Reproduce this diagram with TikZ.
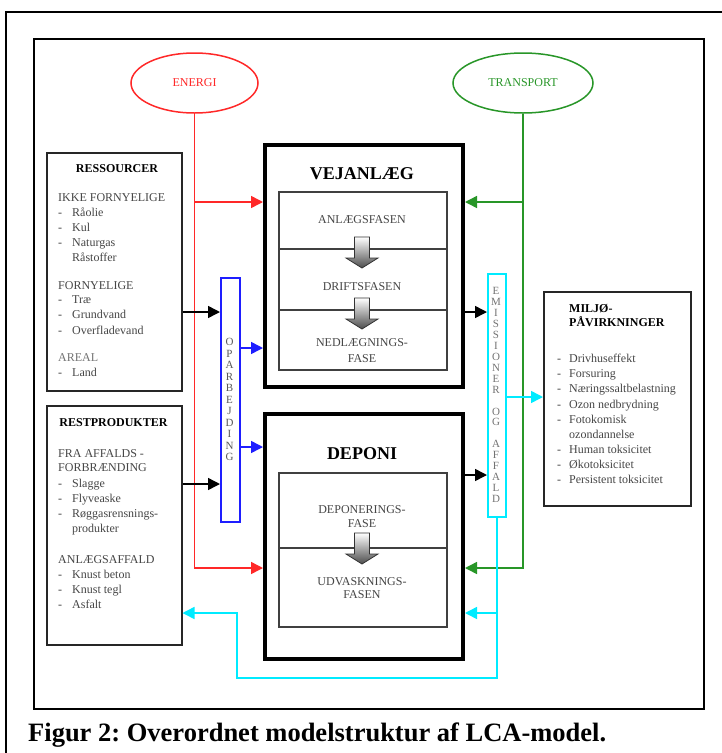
\documentclass[tikz,border=0pt]{standalone}
\usepackage{fontspec}
\setmainfont{Liberation Serif}
\usetikzlibrary{arrows.meta,shapes.geometric}
\definecolor{myred}{RGB}{255,40,40}
\definecolor{mygreen}{RGB}{40,150,40}
\definecolor{myblue}{RGB}{30,30,255}
\definecolor{mycyan}{RGB}{0,235,255}
\definecolor{txtgray}{RGB}{70,70,70}
\newcommand\blkarrow[2]{\shade[top color=white, bottom color=black!70, draw=black!80, line width=0.8pt]
  (#1-7.5,#2) -- (#1+7.5,#2) -- (#1+7.5,#2+21) -- (#1+16,#2+21) -- (#1,#2+31) -- (#1-16,#2+21) -- (#1-7.5,#2+21) -- cycle;}
\frenchspacing
\begin{document}
\begin{tikzpicture}[x=1pt,y=-1pt,
  bx/.style={draw=black!85, line width=1.5pt, rectangle, inner sep=0, anchor=north west},
  bigbx/.style={draw=black, line width=4pt, rectangle, inner sep=0, anchor=north west},
  inbx/.style={draw=black!75, line width=1.5pt, rectangle, inner sep=0, anchor=north west},
  txt/.style={font=\fontsize{12}{14}\selectfont, text=txtgray, inner sep=0, anchor=base west},
  txtc/.style={txt, anchor=base},
  txtb/.style={font=\bfseries\fontsize{12}{14}\selectfont, text=black, inner sep=0, anchor=base west},
  arr/.style={line width=1.5pt, -{Triangle[length=12pt,width=12pt]}},
  ell/.style={ellipse, line width=1.5pt, inner sep=0, font=\fontsize{12}{14}\selectfont}]
\useasboundingbox (0,0) rectangle (722,753);
\fill[white] (0,0) rectangle (722,753);
% outer frame
\draw[line width=1.8pt] (6,753) -- (6,12) -- (722,12);
% inner frame
\node[bx, draw=black, minimum width=670pt, minimum height=670pt] (frame) at (33,38) {};

% ellipses
\node[ell, draw=myred, text=myred, minimum width=127pt, minimum height=60pt] (energi) at (194.5,83) {ENERGI};
\node[ell, draw=mygreen, text=mygreen, minimum width=140pt, minimum height=60pt] (transport) at (523,83) {TRANSPORT};

% left boxes
\node[bx, minimum width=135pt, minimum height=238pt] (res) at (46,152) {};
\node[bx, minimum width=135pt, minimum height=239pt] (rest) at (46,405) {};

% center boxes
\node[bigbx, minimum width=198pt, minimum height=242pt] (vej) at (263,143) {};
\node[inbx, minimum width=168pt, minimum height=178pt] (vin) at (278,191) {};
\node[bigbx, minimum width=198pt, minimum height=245pt] (dep) at (263,412) {};
\node[inbx, minimum width=168pt, minimum height=154pt] (din) at (278,472) {};
\draw[black!75, line width=1.5pt] (vin.west |- 0,249) -- (vin.east |- 0,249);
\draw[black!75, line width=1.5pt] (vin.west |- 0,310) -- (vin.east |- 0,310);
\draw[black!75, line width=1.5pt] (din.west |- 0,548) -- (din.east |- 0,548);
\blkarrow{362}{237}
\blkarrow{362}{298}
\blkarrow{362}{533}

% vertical bars
\node[bx, draw=myblue, minimum width=19pt, minimum height=244pt] (oparb) at (220,277) {};
\node[bx, draw=mycyan, minimum width=18pt, minimum height=243pt] (emis) at (487,273) {};
\node[font=\fontsize{11}{11.5}\selectfont, text=black!65, align=center, inner sep=0] (optxt) at (229.5,399.5) {O\\P\\A\\R\\B\\E\\J\\D\\I\\N\\G};
\node[font=\fontsize{11}{10.95}\selectfont, text=black!55, align=center, inner sep=0] (emtxt) at (496,395) {E\\M\\I\\S\\S\\I\\O\\N\\E\\R\\~\\O\\G\\~\\A\\F\\F\\A\\L\\D};

% right box
\node[bx, minimum width=147pt, minimum height=214pt] (milj) at (543,291) {};

% RESSOURCER text
\node[txtb, anchor=base] (t1) at (117,172) {RESSOURCER};
\node[txt] (t2) at (58,201) {IKKE FORNYELIGE};
\node[txt] (d3) at (58,216) {-}; \node[txt] (t3) at (72,216) {Råolie};
\node[txt] (d4) at (58,231) {-}; \node[txt] (t4) at (72,231) {Kul};
\node[txt] (d5) at (58,246) {-}; \node[txt] (t5) at (72,246) {Naturgas};
\node[txt] (t6) at (72,261) {Råstoffer};
\node[txt] (t7) at (58,289) {FORNYELIGE};
\node[txt] (d8) at (58,303) {-}; \node[txt] (t8) at (72,303) {Træ};
\node[txt] (d9) at (58,318) {-}; \node[txt] (t9) at (72,318) {Grundvand};
\node[txt] (d10) at (58,334) {-}; \node[txt] (t10) at (72,334) {Overfladevand};
\node[txt, text=black!55] (t11) at (58,361) {AREAL};
\node[txt] (d12) at (58,376) {-}; \node[txt] (t12) at (72,376) {Land};

% RESTPRODUKTER text
\node[txtb, anchor=base] (r1) at (113.5,426) {RESTPRODUKTER};
\node[txt] (r2) at (58,457) {FRA AFFALDS -};
\node[txt] (r3) at (58,471) {FORBRÆNDING};
\node[txt] (rd4) at (58,487) {-}; \node[txt] (r4) at (72,487) {Slagge};
\node[txt] (rd5) at (58,502) {-}; \node[txt] (r5) at (72,502) {Flyveaske};
\node[txt] (rd6) at (58,517) {-}; \node[txt] (r6) at (72,517) {Røggasrensnings-};
\node[txt] (r7) at (72,532) {produkter};
\node[txt] (r8) at (58,563) {ANLÆGSAFFALD};
\node[txt] (rd9) at (58,578) {-}; \node[txt] (r9) at (72,578) {Knust beton};
\node[txt] (rd10) at (58,593) {-}; \node[txt] (r10) at (72,593) {Knust tegl};
\node[txt] (rd11) at (58,608) {-}; \node[txt] (r11) at (72,608) {Asfalt};

% center texts
\node[font=\bfseries\fontsize{18}{20}\selectfont, anchor=base, inner sep=0] (vt) at (362,179) {VEJANLÆG};
\node[txtc] (v1) at (362,223) {ANLÆGSFASEN};
\node[txtc] (v2) at (362,290) {DRIFTSFASEN};
\node[txtc] (v3) at (362,346) {NEDLÆGNINGS-};
\node[txtc] (v4) at (362,362) {FASE};
\node[font=\bfseries\fontsize{18}{20}\selectfont, anchor=base, inner sep=0] (dt) at (362,459) {DEPONI};
\node[txtc] (p1) at (362,513) {DEPONERINGS-};
\node[txtc] (p2) at (362,527) {FASE};
\node[txtc] (p3) at (362,585) {UDVASKNINGS-};
\node[txtc] (p4) at (362,598) {FASEN};

% MILJØ text
\node[txtb] (m1) at (569,312) {MILJØ-};
\node[txtb] (m2) at (569,326) {PÅVIRKNINGER};
\foreach \y/\s [count=\i] in {362/Drivhuseffekt, 377/Forsuring, 392/Næringssaltbelastning, 408/Ozon nedbrydning, 423/Fotokomisk, 453/Human toksicitet, 468/Økotoksicitet, 483/Persistent toksicitet}{
  \node[txt] (md\i) at (557,\y) {-};
  \node[txt] (mt\i) at (569,\y) {\s};
}
\node[txt] (mx) at (569,438) {ozondannelse};

% connectors
\draw[arr, myred] (energi.south) |- (dep.west |- 0,568);
\draw[arr, myred] (energi.south |- 0,202) -- (vej.west |- 0,202);
\draw[arr, mygreen] (transport.south) |- (dep.east |- 0,568);
\draw[arr, mygreen] (transport.south |- 0,202) -- (vej.east |- 0,202);
\draw[arr] (res.east |- 0,312) -- (oparb.west |- 0,312);
\draw[arr] (rest.east |- 0,484) -- (oparb.west |- 0,484);
\draw[arr, myblue] (oparb.east |- 0,348) -- (vej.west |- 0,348);
\draw[arr, myblue] (oparb.east |- 0,447) -- (dep.west |- 0,447);
\draw[arr] (vej.east |- 0,312) -- (emis.west |- 0,312);
\draw[arr] (dep.east |- 0,475) -- (emis.west |- 0,475);
\draw[arr, mycyan] (emis.east |- 0,397) -- (milj.west |- 0,397);
\coordinate (cturn) at (237,613);
\draw[arr, mycyan] (emis.south) |- (cturn |- 0,678) -- (cturn) -- (rest.east |- cturn);
\draw[arr, mycyan] (emis.south |- cturn) -- (dep.east |- cturn);

% caption
\node[font=\bfseries\fontsize{26.5}{30}\selectfont, anchor=base west, inner sep=0] (cap) at (28,741) {Figur 2: Overordnet modelstruktur af LCA-model.};
\end{tikzpicture}
\end{document}
